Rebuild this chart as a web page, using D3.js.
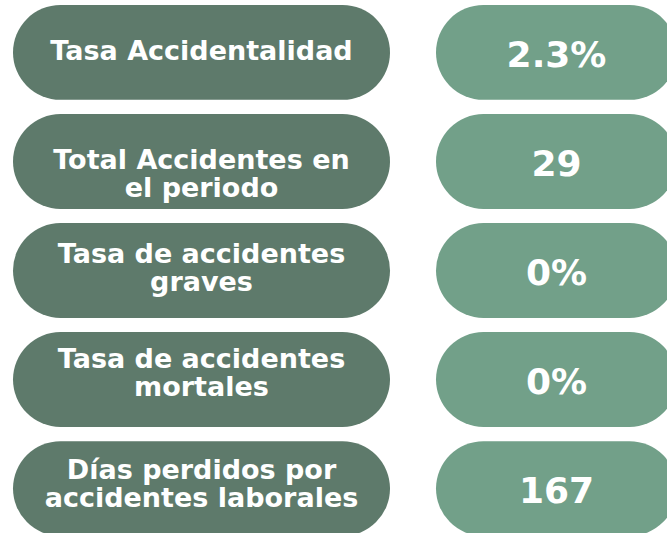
<!DOCTYPE html>
<html>
<head>
<meta charset="utf-8">
<script src="https://cdn.jsdelivr.net/npm/d3@7"></script>
<style>
  html, body { margin: 0; padding: 0; background: #ffffff; }
  svg { display: block; }
  text { font-family: "DejaVu Sans", "Open Sans", sans-serif; font-weight: 700; fill: #ffffff; }
</style>
</head>
<body>
<svg id="chart" width="667" height="533"></svg>
<script>
// ---- data ----
const indicators = [
  "Tasa Accidentalidad",
  "Total Accidentes en\nel periodo",
  "Tasa de accidentes\ngraves",
  "Tasa de accidentes\nmortales",
  "Días perdidos por\naccidentes laborales"
];
const values = ["2.3%", "29", "0%", "0%", "167"];

// ---- layout (not data) ----
const labelBaseline = [55, 55, 40, 36, 38];   // first-line baseline offset inside each pill
const leftColor = "#5e7a6b";
const rightColor = "#72a089";
const labelSize = 27, valueSize = 36, lineH = 28;

const svg = d3.select("#chart");

const y = d3.scaleBand()
  .domain(indicators.map((d, i) => i))
  .range([5, 536])
  .paddingInner(0.13)
  .paddingOuter(0);

const x = d3.scaleOrdinal()
  .domain(["label", "value"])
  .range([[13, 390], [436, 677]]);

const rows = svg.selectAll("g.row")
  .data(indicators.map((d, i) => ({ label: d, value: values[i], i })))
  .join("g")
  .attr("class", "row")
  .attr("transform", d => `translate(0,${y(d.i)})`);

const bh = y.bandwidth();

rows.append("rect")
  .attr("x", x("label")[0])
  .attr("width", x("label")[1] - x("label")[0])
  .attr("height", bh)
  .attr("rx", bh / 2)
  .attr("fill", leftColor);

rows.append("rect")
  .attr("x", x("value")[0])
  .attr("width", x("value")[1] - x("value")[0])
  .attr("height", bh)
  .attr("rx", bh / 2)
  .attr("fill", rightColor);

rows.each(function(d) {
  const g = d3.select(this);
  const lines = d.label.split("\n");
  const cx = (x("label")[0] + x("label")[1]) / 2;
  lines.forEach((ln, k) => {
    g.append("text")
      .attr("text-anchor", "middle")
      .attr("font-size", labelSize)
      .attr("x", cx)
      .attr("y", labelBaseline[d.i] + k * lineH)
      .text(ln);
  });
});

rows.append("text")
  .attr("text-anchor", "middle")
  .attr("font-size", valueSize)
  .attr("x", (x("value")[0] + x("value")[1]) / 2)
  .attr("y", 62)
  .text(d => d.value);
</script>
</body>
</html>
